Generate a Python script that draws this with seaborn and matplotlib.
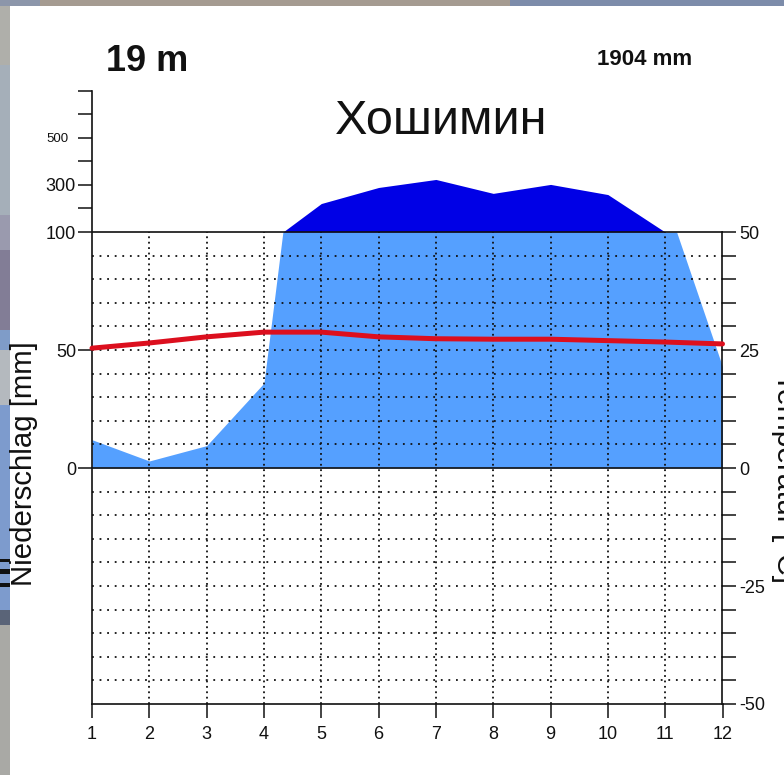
import matplotlib
matplotlib.use("Agg")
import matplotlib.pyplot as plt
import numpy as np
import pandas as pd
import seaborn as sns
from matplotlib.patches import Rectangle

months = [1, 2, 3, 4, 5, 6, 7, 8, 9, 10, 11, 12]
temperature = [25.4, 26.5, 27.8, 28.8, 28.8, 27.8, 27.4, 27.3, 27.3, 27.0, 26.7, 26.3]

# precipitation, split where it crosses 100 mm (scale changes there)
rain_months = [1, 2, 3, 4, 4.33, 11.2, 12]
rain_mm = [12, 3, 9.5, 36, 100, 100, 43]
wet_months = [4.33, 5, 6, 7, 8, 9, 10, 11]
wet_mm = [100, 221, 289, 323, 264, 302, 259, 100]

left_ticks = [0, 50, 100, 200, 300, 400, 500, 600, 700]
left_labels = ["0", "50", "100", "", "300", "", "500", "", ""]
right_ticks = [-50, -45, -40, -35, -30, -25, -20, -15, -10, -5, 0, 5, 10, 15, 20, 25, 30, 35, 40, 45, 50]
right_labels = {-50: "-50", -25: "-25", 0: "0", 25: "25", 50: "50"}
grid_mm = [-90, -80, -70, -60, -50, -40, -30, -20, -10, 10, 20, 30, 40, 50, 60, 70, 80, 90]

# bits of the map behind the chart: (start, end, colour)
left_strip = [
    (0, 65, "#afafaa"), (65, 215, "#a5afb9"), (215, 250, "#9a9aae"), (250, 330, "#827d96"),
    (330, 350, "#7f9cc8"), (350, 405, "#b4b9be"), (405, 610, "#7d9bcd"), (610, 625, "#5a6478"),
    (625, 775, "#a9a9a5"),
]
top_strip = [(0, 40, "#8c96aa"), (40, 510, "#a59b91"), (510, 784, "#7d8caa")]
left_marks = [(559, 562), (569, 574), (583, 587)]

W, H = 784, 775
DARK = "#111111"

sns.set_theme(style="white")
plt.rcParams["font.family"] = ["Liberation Sans", "DejaVu Sans"]


def fwd(y):
    y = np.asarray(y, dtype=float)
    return np.where(y <= 100, y, 100 + (y - 100) / 10)


def inv(y):
    y = np.asarray(y, dtype=float)
    return np.where(y <= 100, y, 100 + (y - 100) * 10)


fig = plt.figure(figsize=(W / 100, H / 100), dpi=100, facecolor="white")
ax = fig.add_axes([92 / W, 1 - 704 / H, 630.5 / W, 613.5 / H])
ax.patch.set_alpha(0)

ax.set_yscale("function", functions=(fwd, inv))
ax.set_xlim(1, 12)
ax.set_ylim(-100, 700)

ax.fill_between(rain_months, 0, rain_mm, color="#55a0ff", lw=0, zorder=1)
ax.fill_between(wet_months, 100, wet_mm, color="#0000e6", lw=0, zorder=1)

ax.hlines(grid_mm, 1, 12, color=DARK, lw=1.3, linestyles=[(0, (1, 3.2))], zorder=2)
ax.vlines(months[1:-1], -100, 100, color=DARK, lw=1.3, linestyles=[(0, (1, 2))], zorder=2)
ax.hlines([0, 100], 1, 12, color=DARK, lw=1.2, zorder=3)

ax.set_xticks(months)
ax.set_yticks(left_ticks)
ax.set_yticklabels(left_labels)
ax.minorticks_off()
ax.set_xlabel("")
ax.set_ylabel("")
ax.tick_params(axis="x", bottom=True, length=10, width=1.1, color=DARK, labelsize=13, pad=6, labelcolor=DARK)
ax.tick_params(axis="y", left=True, length=10, width=1.1, color=DARK, labelsize=13, pad=1.5, labelcolor=DARK)
for tick in ax.yaxis.get_major_ticks():
    if tick.label1.get_text() == "500":
        tick.label1.set_fontsize(9.5)
        tick.set_pad(7)

for s in ["top", "right"]:
    ax.spines[s].set_visible(False)
for s in ["left", "bottom"]:
    ax.spines[s].set_color(DARK)
    ax.spines[s].set_linewidth(1.2)

# temperature on its own axis, 50 C lines up with 100 mm
ax2 = ax.twinx()
ax2.set_ylim(-50, 80)
sns.lineplot(
    data=pd.DataFrame({"month": months, "temp": temperature}),
    x="month", y="temp", ax=ax2, color="#dc0f1e", lw=3.6, zorder=5, clip_on=False,
)
ax2.set_xlabel("")
ax2.set_ylabel("")
ax2.set_yticks(right_ticks)
ax2.set_yticklabels([right_labels.get(t, "") for t in right_ticks])
ax2.tick_params(axis="y", right=True, length=10, width=1.1, color=DARK, labelsize=13, pad=2, labelcolor=DARK)
for s in ["top", "left", "bottom"]:
    ax2.spines[s].set_visible(False)
ax2.spines["right"].set_bounds(-50, 50)
ax2.spines["right"].set_color(DARK)
ax2.spines["right"].set_linewidth(1.2)

fig.text(106 / W, 1 - 71 / H, "19 m", fontsize=26, fontweight="bold", color=DARK, ha="left", va="baseline")
fig.text(597 / W, 1 - 65 / H, "1904 mm", fontsize=16, fontweight="bold", color=DARK, ha="left", va="baseline")
fig.text(441 / W, 1 - 134 / H, "Хошимин", fontsize=35, color=DARK, ha="center", va="baseline")
fig.text(32 / W, 1 - 586 / H, "Niederschlag [mm]", fontsize=21.2, color=DARK, rotation=90,
         rotation_mode="anchor", ha="left", va="baseline")
fig.text(777 / W, 1 - 583 / H, "Temperatur [°C]", fontsize=21.6, color=DARK, rotation=270,
         rotation_mode="anchor", ha="right", va="baseline")

# map showing round the white panel
for y0, y1, c in left_strip:
    fig.add_artist(Rectangle((0, 1 - y1 / H), 10 / W, (y1 - y0) / H, transform=fig.transFigure, color=c, lw=0))
for x0, x1, c in top_strip:
    fig.add_artist(Rectangle((x0 / W, 1 - 5.5 / H), (x1 - x0) / W, 5.5 / H, transform=fig.transFigure, color=c, lw=0))
for y0, y1 in left_marks:
    fig.add_artist(Rectangle((0, 1 - y1 / H), 10 / W, (y1 - y0) / H, transform=fig.transFigure, color="#111111", lw=0))

fig.savefig("out.png", dpi=100)
